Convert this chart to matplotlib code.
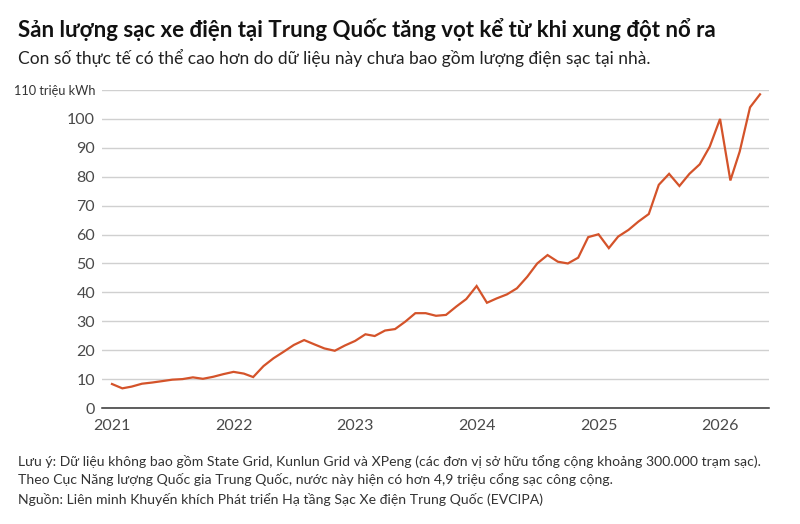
import matplotlib
matplotlib.use("Agg")
import matplotlib.pyplot as plt
import pandas as pd
import datetime as dt

# ---- data ----
start_month = "2021-01-01"
values = [
    8.3, 6.8, 7.4, 8.4, 8.8, 9.3, 9.8, 10.0, 10.6, 10.1, 10.8, 11.7,      # 2021
    12.5, 11.9, 10.7, 14.5, 17.2, 19.5, 21.8, 23.5, 22.0, 20.6, 19.8, 21.6,  # 2022
    23.2, 25.5, 24.9, 26.8, 27.3, 29.9, 32.8, 32.8, 31.9, 32.2, 35.1, 37.7,  # 2023
    42.2, 36.4, 37.9, 39.3, 41.4, 45.4, 50.0, 52.9, 50.6, 50.0, 52.0, 59.1,  # 2024
    60.1, 55.3, 59.3, 61.6, 64.5, 67.1, 77.2, 81.0, 76.8, 81.0, 84.3, 90.4,  # 2025
    100.0, 78.7, 88.7, 104.0, 108.5,                                       # 2026
]
months = pd.date_range(start_month, periods=len(values), freq="MS")

year_ticks = ["2021", "2022", "2023", "2024", "2025", "2026"]
y_ticks = [0, 10, 20, 30, 40, 50, 60, 70, 80, 90, 100, 110]
y_labels = ["0", "10", "20", "30", "40", "50", "60", "70", "80", "90", "100", "110 triệu kWh"]

title = "Sản lượng sạc xe điện tại Trung Quốc tăng vọt kể từ khi xung đột nổ ra"
subtitle = "Con số thực tế có thể cao hơn do dữ liệu này chưa bao gồm lượng điện sạc tại nhà."
note1 = "Lưu ý: Dữ liệu không bao gồm State Grid, Kunlun Grid và XPeng (các đơn vị sở hữu tổng cộng khoảng 300.000 trạm sạc)."
note2 = "Theo Cục Năng lượng Quốc gia Trung Quốc, nước này hiện có hơn 4,9 triệu cổng sạc công cộng."
source = "Nguồn: Liên minh Khuyến khích Phát triển Hạ tầng Sạc Xe điện Trung Quốc (EVCIPA)"

# ---- figure ----
W, H = 800, 524
fig = plt.figure(figsize=(W / 100, H / 100), dpi=100)
plt.rcParams["font.family"] = ["Lato", "DejaVu Sans"]

ax_left, ax_right, ax_top, ax_bottom = 102, 769, 90, 408
ax = fig.add_axes([ax_left / W, 1 - ax_bottom / H, (ax_right - ax_left) / W, (ax_bottom - ax_top) / H])

ax.plot(months, values, color="#D4532A", lw=1.6, solid_joinstyle="miter", zorder=3, clip_on=False)

ax.set_ylim(0, 110)
ax.set_xlim(dt.datetime(2020, 12, 2), dt.datetime(2026, 5, 28))

ax.set_yticks(y_ticks)
ax.set_yticklabels(y_labels)
ax.set_xticks([dt.datetime(int(y), 1, 1) for y in year_ticks])
ax.set_xticklabels(year_ticks)

ax.tick_params(axis="both", length=0, labelsize=11.5, labelcolor="#4a4a4a")
ax.tick_params(axis="y", pad=5)
ax.tick_params(axis="x", pad=8)
ax.get_yticklabels()[-1].set_fontsize(9.2)
ax.get_yticklabels()[-1].set_color("#333333")

ax.grid(axis="y", color="#d0d0d0", lw=1.0)
ax.set_axisbelow(True)
for s in ["top", "right", "left"]:
    ax.spines[s].set_visible(False)
ax.spines["bottom"].set_color("#333333")
ax.spines["bottom"].set_linewidth(1.1)

# ---- texts ----
fig.text(18 / W, 1 - 30 / H, title, fontsize=16, fontweight="bold", color="#111111", va="center", ha="left")
fig.text(18 / W, 1 - 58 / H, subtitle, fontsize=12.5, color="#222222", va="center", ha="left")
fig.text(18 / W, 1 - 462 / H, note1, fontsize=10.1, color="#333333", va="center", ha="left")
fig.text(18 / W, 1 - 480 / H, note2, fontsize=10.1, color="#333333", va="center", ha="left")
fig.text(18 / W, 1 - 499 / H, source, fontsize=10.1, color="#333333", va="center", ha="left")

fig.savefig("out.png", dpi=100, facecolor="white")
